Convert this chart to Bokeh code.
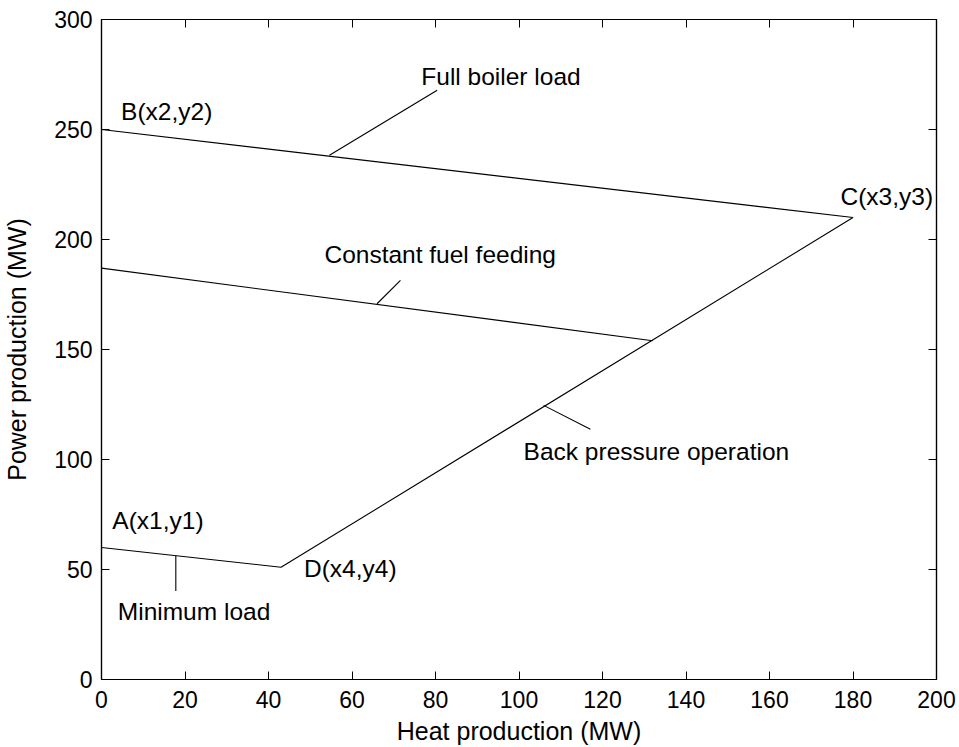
from bokeh.plotting import figure
from bokeh.models import LinearAxis, FixedTicker, Range1d, CustomJSTickFormatter
from bokeh.embed import file_html
from bokeh.resources import INLINE

# Operating region of a CHP unit: corner points (heat MW, power MW)
corner_names = ["A(x1,y1)", "D(x4,y4)", "C(x3,y3)", "B(x2,y2)"]
corner_heat = [0, 43, 180, 0]
corner_power = [60, 51, 210, 250]

# Constant fuel feeding line
fuel_heat = [0, 132]
fuel_power = [187, 154]

# Annotation texts with anchor (left, baseline) in data units
label_texts = ["B(x2,y2)", "Full boiler load", "C(x3,y3)", "Constant fuel feeding",
               "Back pressure operation", "A(x1,y1)", "D(x4,y4)", "Minimum load"]
label_x = [4.7, 76.6, 177.0, 53.4, 101.1, 2.6, 48.5, 3.9]
label_y = [258.3, 274.0, 219.5, 193.0, 103.6, 72.2, 50.6, 30.8]

# Leader lines from curve to annotation
leader_x0 = [54.6, 66.0, 105.9, 17.8]
leader_y0 = [238.3, 170.8, 124.6, 56.3]
leader_x1 = [80.4, 71.6, 117.1, 17.8]
leader_y1 = [267.8, 181.4, 113.7, 40.2]

x_ticks = list(range(0, 201, 20))
y_ticks = list(range(0, 301, 50))

FONT = "Liberation Sans"

p = figure(width=959, height=747, output_backend="svg", toolbar_location=None,
           x_range=Range1d(0, 200), y_range=Range1d(0, 300),
           min_border_left=101, min_border_right=23, min_border_top=19,
           min_border_bottom=66, x_axis_label="Heat production (MW)",
           y_axis_label="Power production (MW)")
p.grid.visible = False
p.outline_line_color = "black"
p.outline_line_width = 1.2
p.background_fill_color = "white"
p.border_fill_color = "white"

for ax in (p.xaxis[0], p.yaxis[0]):
    ax.major_tick_in = 8
    ax.major_tick_out = 0
    ax.minor_tick_line_color = None
    ax.axis_line_color = "black"
    ax.axis_line_width = 1.2
    ax.major_tick_line_color = "black"
    ax.major_label_text_font = FONT
    ax.major_label_text_font_size = "23px"
    ax.major_label_text_color = "black"
    ax.axis_label_text_font = FONT
    ax.axis_label_text_font_size = "25px"
    ax.axis_label_text_font_style = "normal"
    ax.axis_label_text_color = "black"

p.xaxis[0].ticker = FixedTicker(ticks=x_ticks)
p.yaxis[0].ticker = FixedTicker(ticks=y_ticks)
p.xaxis[0].major_label_standoff = 11
p.xaxis[0].axis_label_standoff = 6
p.yaxis[0].major_label_standoff = 9
p.yaxis[0].axis_label_standoff = 20

# Mirror axes on top and right with ticks only
blank = CustomJSTickFormatter(code="return '';")
top = LinearAxis(ticker=FixedTicker(ticks=x_ticks), formatter=blank)
right = LinearAxis(ticker=FixedTicker(ticks=y_ticks), formatter=blank)
for ax in (top, right):
    ax.major_tick_in = 8
    ax.major_tick_out = 0
    ax.minor_tick_line_color = None
    ax.axis_line_color = "black"
    ax.axis_line_width = 1.2
    ax.major_label_standoff = 0
    ax.major_label_text_font_size = "1px"
p.add_layout(top, "above")
p.add_layout(right, "right")

# Boundary of the operating region
p.line(corner_heat, corner_power, line_color="black", line_width=1.1)
p.line(fuel_heat, fuel_power, line_color="black", line_width=1.1)
p.segment(leader_x0, leader_y0, leader_x1, leader_y1, line_color="black", line_width=1.1)

p.text(label_x, label_y, text=label_texts, text_font_size="24.5px",
       text_font={"value": FONT}, text_color="black",
       text_align="left", text_baseline="alphabetic")

open("out.html", "w").write(file_html(p, INLINE))
